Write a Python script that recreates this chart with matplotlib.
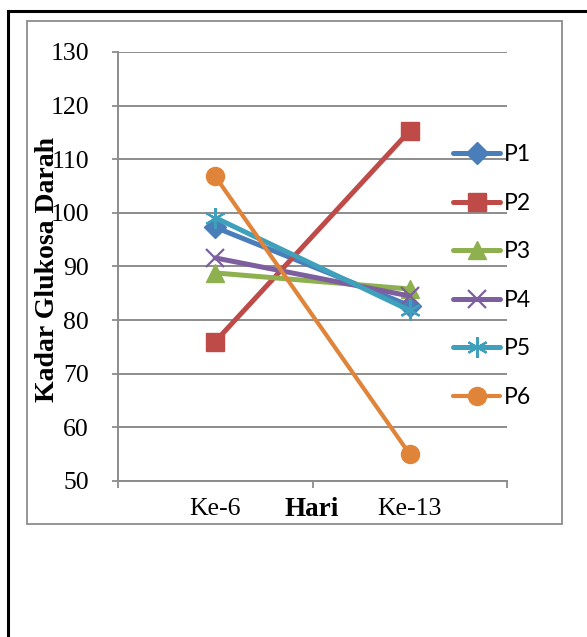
import matplotlib
matplotlib.use("Agg")
import matplotlib.pyplot as plt
from matplotlib.lines import Line2D
from matplotlib.patches import Rectangle

# data
categories = ["Ke-6", "Ke-13"]
series_names = ["P1", "P2", "P3", "P4", "P5", "P6"]
p1 = [97.3, 82.7]
p2 = [76.0, 115.3]
p3 = [88.8, 85.8]
p4 = [91.6, 84.5]
p5 = [99.1, 81.8]
p6 = [106.8, 55.0]
y_ticks = [50, 60, 70, 80, 90, 100, 110, 120, 130]

colors = ["#4A7EBB", "#BE4B48", "#8EB04E", "#7D5F9F", "#3FA0BC", "#E0843A"]
markers = ["D", "s", "^", "x", (6, 2, 0), "o"]
msizes = [11, 13, 13, 13, 15, 13]

W, H = 587, 637
fig = plt.figure(figsize=(W / 100, H / 100), dpi=100)
serif = "Liberation Serif"

def fx(px):
    return px / W

def fy(py):
    return 1 - py / H

# outer black border (runs off the right and bottom edges)
fig.add_artist(Line2D([fx(8), fx(8)], [fy(11), fy(H + 5)], color="black", lw=2.2))
fig.add_artist(Line2D([fx(8), fx(W + 5)], [fy(11), fy(11)], color="black", lw=2.2))
# inner chart frame
fig.add_artist(Rectangle((fx(27), fy(524)), fx(562) - fx(27), fy(21) - fy(524),
                         fill=False, edgecolor="#8C8C8C", lw=1.3))

ax = fig.add_axes([fx(118), fy(481), fx(507) - fx(118), fy(52) - fy(481)])
x = [0, 1]
for name, vals, c, m, ms in zip(series_names, [p1, p2, p3, p4, p5, p6], colors, markers, msizes):
    lw = 3.0 if name == "P6" else 3.6
    thin = m == "x" or isinstance(m, tuple)
    ax.plot(x, vals, color=c, lw=lw, marker=m, markersize=ms, markeredgewidth=1.6 if thin else 1,
            markerfacecolor=c, markeredgecolor=c, label=name, solid_capstyle="round", zorder=3)

ax.set_xlim(-0.5, 1.5)
ax.set_ylim(50, 130)
ax.set_yticks(y_ticks)
ax.set_yticklabels([str(t) for t in y_ticks], fontfamily=serif, fontsize=18.5)
ax.set_xticks([-0.5, 0.5, 1.5], minor=False)
ax.set_xticklabels([])
ax.set_xticks(x, minor=True)
ax.set_xticklabels(categories, minor=True, fontfamily=serif, fontsize=18.5)
ax.tick_params(axis="x", which="minor", length=0, pad=12)
ax.tick_params(axis="x", which="major", length=5, width=1.3, color="#8C8C8C")
ax.tick_params(axis="y", length=4, width=1.3, color="#8C8C8C", pad=17)
ax.grid(axis="y", color="#8C8C8C", lw=1.4, zorder=0)
ax.set_axisbelow(True)
for s in ["top", "right"]:
    ax.spines[s].set_visible(False)
for s in ["left", "bottom"]:
    ax.spines[s].set_color("#8C8C8C")
    ax.spines[s].set_linewidth(1.4)
ax.patch.set_alpha(0)

fig.text(fx(312), fy(509), "Hari", fontfamily=serif, fontweight="bold", fontsize=19.5,
         ha="center", va="center")
fig.text(fx(47), fy(269), "Kadar Glukosa Darah", fontfamily=serif, fontweight="bold",
         fontsize=20, rotation=90, ha="center", va="center")

leg = fig.legend(loc="upper left", bbox_to_anchor=(fx(442), fy(133)), frameon=False,
                 prop={"family": "Lato", "size": 16.5}, borderpad=0, handlelength=2.05,
                 handletextpad=0.15, labelspacing=1.2)

fig.savefig("out.png", dpi=100)
